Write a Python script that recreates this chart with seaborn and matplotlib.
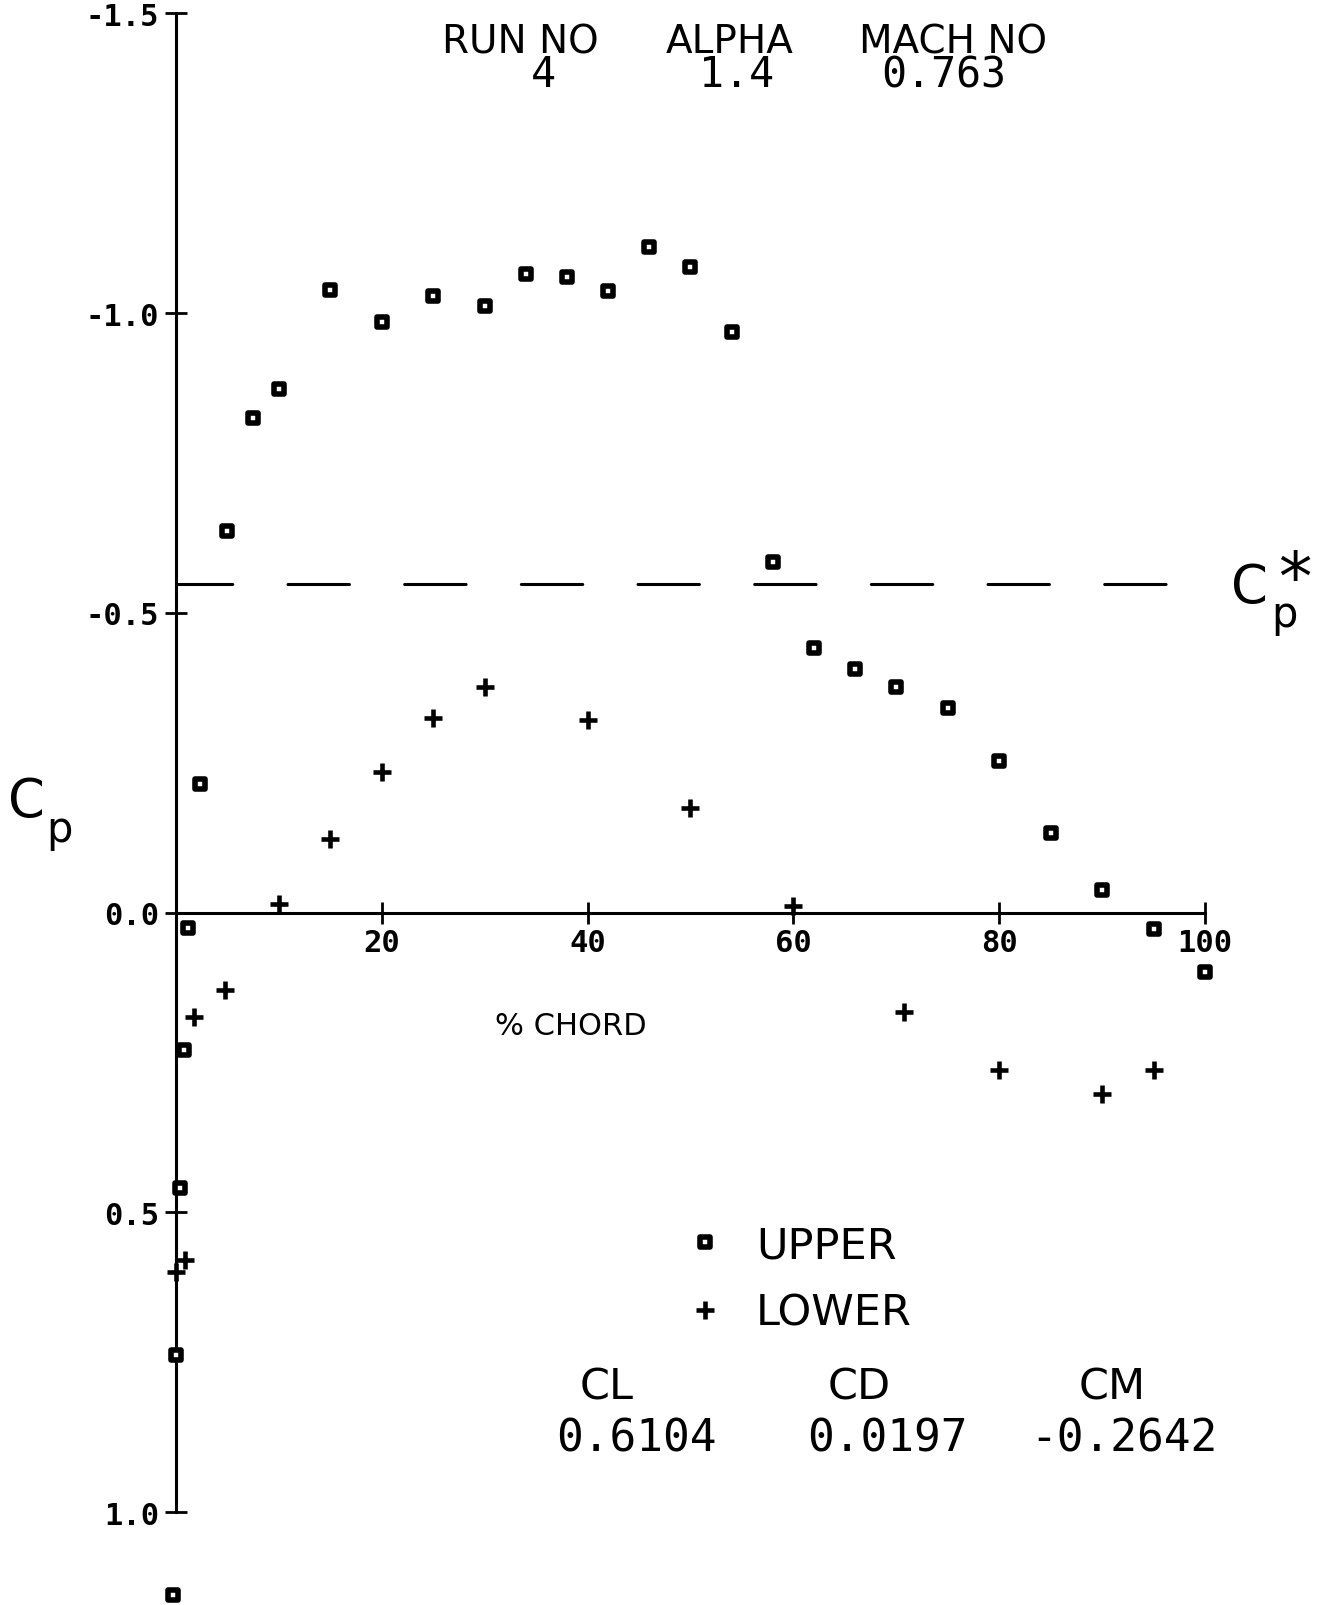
import matplotlib
matplotlib.use("Agg")
import matplotlib.pyplot as plt
import numpy as np
import pandas as pd
import seaborn as sns

# pressure taps: % chord and Cp
upper_x = [-0.3, 0, 0.4, 0.8, 1.2, 2.3, 5, 7.5, 10, 15, 20, 25, 30, 34, 38, 42, 46, 50, 54,
           58, 62, 66, 70, 75, 80, 85, 90, 95, 100]
upper_cp = [1.139, 0.738, 0.460, 0.230, 0.026, -0.214, -0.637, -0.825, -0.874, -1.039, -0.985,
            -1.028, -1.011, -1.065, -1.060, -1.036, -1.110, -1.076, -0.969,
            -0.584, -0.442, -0.406, -0.377, -0.341, -0.252, -0.132, -0.037, 0.028, 0.100]
lower_x = [0, 0.9, 1.8, 4.8, 10, 15, 20, 25, 30, 40, 50, 60, 70.7, 80, 90, 95]
lower_cp = [0.600, 0.579, 0.174, 0.130, -0.015, -0.122, -0.235, -0.324, -0.376, -0.321,
            -0.174, -0.011, 0.166, 0.263, 0.303, 0.263]

cp_star = -0.548
cp_star_span = [0, 96.5]

y_ticks = [-1.5, -1.0, -0.5, 0.0, 0.5, 1.0]
y_tick_labels = ["-1.5", "-1.0", "-0.5", "0.0", "0.5", "1.0"]
x_ticks = [20, 40, 60, 80, 100]
x_tick_labels = ["20", "40", "60", "80", "100"]

header_names = ["RUN NO", "ALPHA", "MACH NO"]
header_values = ["4", "1.4", "0.763"]
coef_names = ["CL", "CD", "CM"]
coef_values = ["0.6104", "0.0197", "-0.2642"]

W, H = 1325, 1606
MONO = "DejaVu Sans Mono"


def fpos(x, y):
  # pixel position in the reference -> figure fraction
  return x / W, 1 - y / H


sns.set_style("white")
plt.rcParams["font.family"] = ["DejaVu Sans"]
plt.rcParams["text.color"] = "black"
plt.rcParams["lines.scale_dashes"] = False

fig = plt.figure(figsize=(W / 100, H / 100), dpi=100)
ax = fig.add_axes([0, 0, 1, 1])
ax.set_xlim(-17.1, 111.66)
ax.set_ylim(1.1551, -1.5238)

upper = pd.DataFrame({"chord": upper_x, "cp": upper_cp})
lower = pd.DataFrame({"chord": lower_x, "cp": lower_cp})

sns.scatterplot(data=upper, x="chord", y="cp", marker="s", s=49, facecolor="white",
                edgecolor="black", linewidth=4.0, label="UPPER", ax=ax, clip_on=False, zorder=4)
sns.scatterplot(data=lower, x="chord", y="cp", marker="+", s=180, color="black",
                linewidth=3.3, label="LOWER", ax=ax, clip_on=False, zorder=4)

ax.plot(cp_star_span, [cp_star, cp_star], color="black", lw=2.2,
        linestyle=(3.7, (44.2, 39.8)), dash_capstyle="round")

for side in ["top", "right"]:
  ax.spines[side].set_visible(False)
ax.spines["left"].set_position(("data", 0))
ax.spines["bottom"].set_position(("data", 0))
ax.spines["left"].set_bounds(-1.5, 1.0)
ax.spines["bottom"].set_bounds(0, 100)
for side in ["left", "bottom"]:
  ax.spines[side].set_linewidth(2.2)
  ax.spines[side].set_color("black")
  ax.spines[side].set_zorder(3)

ax.set_yticks(y_ticks, y_tick_labels)
ax.set_xticks(x_ticks, x_tick_labels)
ax.tick_params(bottom=True, left=True, direction="inout", length=16, width=2,
               colors="black", labelsize=22)
ax.tick_params(axis="y", pad=4)
ax.tick_params(axis="x", pad=3)
for lbl in ax.get_xticklabels() + ax.get_yticklabels():
  lbl.set_fontfamily(MONO)
  lbl.set_fontweight("bold")
ax.set_xlabel("")
ax.set_ylabel("")

ax.legend(loc="center left", bbox_to_anchor=(683 / W, 1 - 1280 / H), frameon=False,
          fontsize=31, markerscale=1.0, scatterpoints=1, scatteryoffsets=[0.5],
          borderpad=0, borderaxespad=0, handlelength=1.0, handletextpad=0.7, labelspacing=0.6)

# header block
for name, val, xn, xv in zip(header_names, header_values, [520, 730, 953], [543, 736, 944]):
  fig.text(*fpos(xn, 53), name, fontsize=28, ha="center", va="baseline")
  fig.text(*fpos(xv, 87), val, fontsize=30, ha="center", va="baseline", family=MONO)

# coefficient block
for name, val, xc, xv in zip(coef_names, coef_values, [607, 859, 1112], [636, 887, 1124]):
  fig.text(*fpos(xc, 1400), name, fontsize=31, ha="center", va="baseline")
  fig.text(*fpos(xv, 1452), val, fontsize=32, ha="center", va="baseline", family=MONO)

fig.text(*fpos(571, 1035), "% CHORD", fontsize=22, ha="center", va="baseline")

# axis label Cp and the critical-pressure label Cp*
fig.text(*fpos(8, 817), "C", fontsize=38, ha="left", va="baseline")
fig.text(*fpos(46, 842), "p", fontsize=30, ha="left", va="baseline")
fig.text(*fpos(1231, 603), "C", fontsize=38, ha="left", va="baseline")
fig.text(*fpos(1295, 600), "*", fontsize=48, ha="center", va="baseline")
fig.text(*fpos(1271, 627), "p", fontsize=30, ha="left", va="baseline")

fig.savefig("out.png", dpi=100)
